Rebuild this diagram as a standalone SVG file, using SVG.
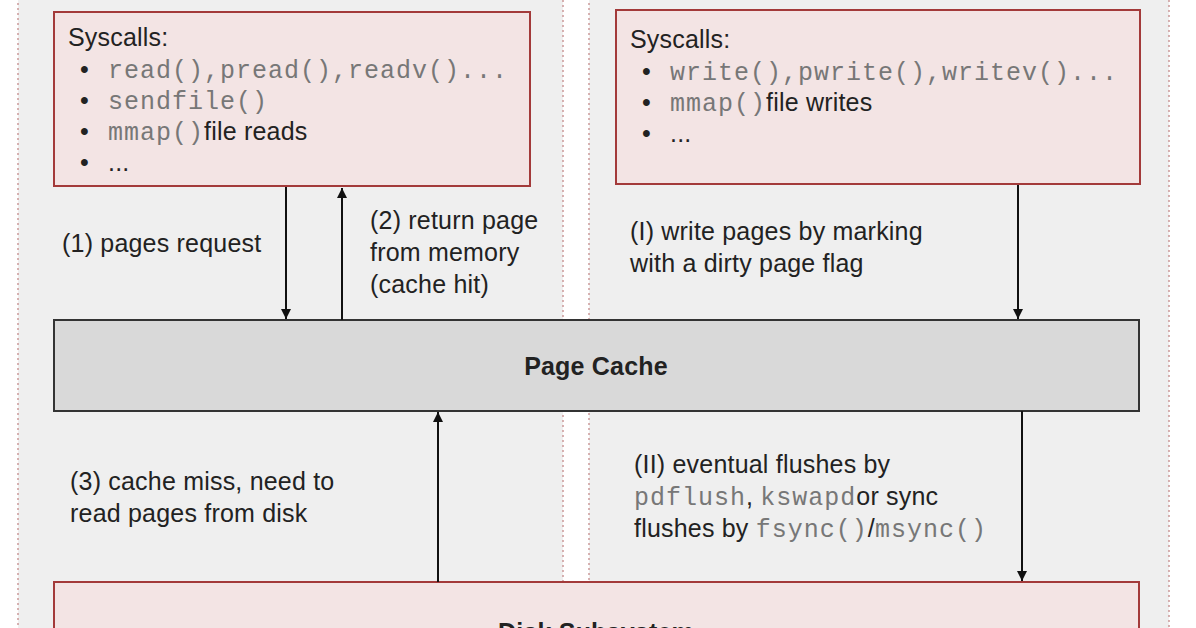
<svg xmlns="http://www.w3.org/2000/svg" width="1196" height="628" viewBox="0 0 1196 628">
<defs>
<marker id="ah" markerWidth="10" markerHeight="12" refX="10" refY="6" orient="auto" markerUnits="userSpaceOnUse"><path d="M0,1 L10,6 L0,11 z" fill="#111"/></marker>
<style>
.t{font-family:"Liberation Sans",Arial,sans-serif;font-size:25px;fill:#222;letter-spacing:0.2px}
.m{font-family:"Liberation Mono","Courier New",monospace;font-size:25px;fill:#777;letter-spacing:1px}
.b{font-weight:bold}
.pink{fill:#f3e4e4;stroke:#a33a3a;stroke-width:2}
.panel{fill:#efefef;stroke:#c99;stroke-width:1.5;stroke-dasharray:2 3}
.c{stroke:#111;stroke-width:2;fill:none;marker-end:url(#ah)}
</style>
</defs>
<rect width="1196" height="628" fill="#fff"/>
<rect class="panel" x="18" y="-5" width="545" height="640"/>
<rect class="panel" x="589" y="-5" width="580" height="640"/>
<g id="readbox">
<rect class="pink" x="54" y="12" width="476" height="174"/>
<text class="t" x="68" y="46">Syscalls:</text>
<text class="t" x="80" y="78">•</text><text class="m" x="108" y="78">read(),pread(),readv()...</text>
<text class="t" x="80" y="109">•</text><text class="m" x="108" y="109">sendfile()</text>
<text class="t" x="80" y="140">•</text><text class="t" x="108" y="140"><tspan class="m">mmap()</tspan>file reads</text>
<text class="t" x="80" y="171">•</text><text class="t" x="108" y="171">...</text>
</g>
<g id="writebox">
<rect class="pink" x="616" y="10" width="524" height="174"/>
<text class="t" x="630" y="48">Syscalls:</text>
<text class="t" x="642" y="80">•</text><text class="m" x="670" y="80">write(),pwrite(),writev()...</text>
<text class="t" x="642" y="111">•</text><text class="t" x="670" y="111"><tspan class="m">mmap()</tspan>file writes</text>
<text class="t" x="642" y="142">•</text><text class="t" x="670" y="142">...</text>
</g>
<g id="pagecache">
<rect x="54" y="320" width="1085" height="91" fill="#d9d9d9" stroke="#333" stroke-width="2"/>
<text class="t b" x="596" y="375" text-anchor="middle">Page Cache</text>
</g>
<g id="disk">
<rect class="pink" x="54" y="582" width="1085" height="80"/>
<text class="t b" x="596" y="641" text-anchor="middle">Disk Subsystem</text>
</g>
<g id="connectors">
<line class="c" x1="286" y1="187" x2="286" y2="319"/>
<line class="c" x1="342" y1="320" x2="342" y2="188"/>
<line class="c" x1="1018" y1="185" x2="1018" y2="319"/>
<line class="c" x1="438" y1="582" x2="438" y2="412"/>
<line class="c" x1="1022" y1="411" x2="1022" y2="581"/>
</g>
<g id="labels">
<text class="t" x="62" y="252">(1) pages request</text>
<text class="t" x="370" y="229">(2) return page</text>
<text class="t" x="370" y="261">from memory</text>
<text class="t" x="370" y="293">(cache hit)</text>
<text class="t" x="630" y="240">(I) write pages by marking</text>
<text class="t" x="630" y="272">with a dirty page flag</text>
<text class="t" x="70" y="490">(3) cache miss, need to</text>
<text class="t" x="70" y="522">read pages from disk</text>
<text class="t" x="634" y="473">(II) eventual flushes by</text>
<text class="t" x="634" y="505"><tspan class="m">pdflush</tspan>, <tspan class="m">kswapd</tspan>or sync</text>
<text class="t" x="634" y="537">flushes by <tspan class="m">fsync()</tspan>/<tspan class="m">msync()</tspan></text>
</g>
</svg>
